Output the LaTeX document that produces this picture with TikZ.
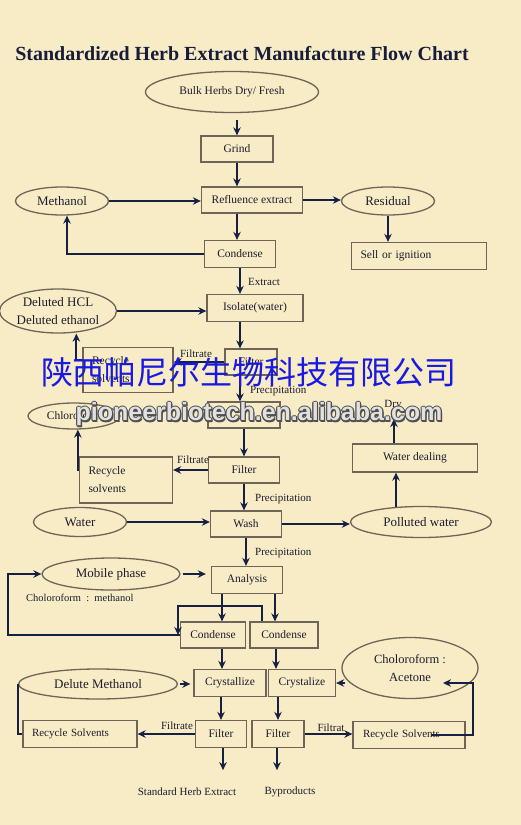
\documentclass[tikz,border=0pt]{standalone}
\usepackage{fontspec}
\setmainfont{Liberation Serif}
\newfontfamily\cjkfont{Noto Sans CJK SC}
\newfontfamily\wmfont{Liberation Sans}
\usetikzlibrary{shapes.geometric,arrows.meta,calc}
\definecolor{bg}{RGB}{248,236,198}
\definecolor{boxc}{RGB}{110,100,88}
\definecolor{arrc}{RGB}{22,32,68}
\definecolor{txt}{RGB}{28,28,45}
\definecolor{titlec}{RGB}{22,28,58}
\definecolor{wmblue}{RGB}{25,25,225}
\definecolor{wmdark}{RGB}{80,80,80}
\definecolor{wmlight}{RGB}{225,225,225}
\begin{document}
\begin{tikzpicture}[x=1pt,y=-1pt,
  box/.style={draw=boxc, line width=1.3pt, rectangle, inner sep=0pt, text=txt, font=\fontsize{11.5}{14}\selectfont, align=center},
  ell/.style={draw=boxc, line width=1.3pt, ellipse, inner sep=0pt, text=txt, font=\fontsize{13}{18}\selectfont, align=center},
  lbl/.style={text=txt, font=\fontsize{11}{13}\selectfont, inner sep=0pt},
  arr/.style={draw=arrc, line width=1.9pt, -{Stealth[length=8pt,width=7.5pt]}},
  ln/.style={draw=arrc, line width=1.9pt},
  wm/.style={font=\wmfont\bfseries\fontsize{25}{30}\selectfont, inner sep=0pt}]
\fill[bg] (0,0) rectangle (521,825);
\useasboundingbox (0,0) rectangle (521,825);

\node[text=titlec, font=\bfseries\fontsize{20}{24}\selectfont, inner sep=0pt] (title) at (242,54) {Standardized Herb Extract Manufacture Flow Chart};

% nodes
\node[ell, minimum width=173, minimum height=41, font=\fontsize{11.5}{14}\selectfont] (bulk) at (232,92) {Bulk Herbs Dry/ Fresh};
\node[box, minimum width=72, minimum height=26] (grind) at (237,149) {Grind};
\node[box, minimum width=101, minimum height=26] (reflu) at (252,200) {Refluence extract};
\node[ell, minimum width=93, minimum height=28] (meth) at (62,201) {Methanol};
\node[ell, minimum width=93, minimum height=28] (resid) at (388,201) {Residual};
\node[box, minimum width=71, minimum height=27] (cond1) at (240,254) {Condense};
\node[box, minimum height=27, text width=117, inner xsep=9, align=left] (sell) at (419,256) {Sell or ignition};
\node[lbl, anchor=west] (extr) at (248,282) {Extract};
\node[box, minimum width=96, minimum height=27] (iso) at (255,308) {Isolate(water)};
\node[ell, minimum width=117, minimum height=44] (hcl) at (58,311) {Deluted HCL\\Deluted ethanol};
\node[box, minimum width=52, minimum height=26] (filt1) at (251,362) {Filter};
\node[box, minimum height=45, text width=72, inner xsep=9, align=left, font=\fontsize{11.5}{18}\selectfont] (rec1) at (128,370) {Recycle\\solvents};
\node[lbl] (ft1) at (196,354) {Filtrate};
\node[lbl, anchor=west] (pr1) at (250,391) {Precipitation};
\node[box, minimum width=72, minimum height=26] (iso2) at (244,415) {};
\node[ell, minimum width=92, minimum height=26, font=\fontsize{11.5}{14}\selectfont] (chl) at (74,416) {Chloroform};
\node[lbl] (dry) at (393,405) {Dry};
\node[box, minimum width=71, minimum height=26] (filt2) at (244,470) {Filter};
\node[box, minimum height=46, text width=75, inner xsep=9, align=left, font=\fontsize{11.5}{18}\selectfont] (rec2) at (126,480) {Recycle\\solvents};
\node[lbl] (ft2) at (193,460) {Filtrate};
\node[lbl, anchor=west] (pr2) at (255,499) {Precipitation};
\node[box, minimum width=71, minimum height=26] (wash) at (246,524) {Wash};
\node[ell, minimum width=93, minimum height=29] (water) at (80,522) {Water};
\node[ell, minimum width=141, minimum height=31] (poll) at (421,522) {Polluted water};
\node[box, minimum width=125, minimum height=28] (wdeal) at (415,458) {Water dealing};
\node[lbl, anchor=west] (pr3) at (255,553) {Precipitation};
\node[box, minimum width=71, minimum height=27] (anal) at (247,580) {Analysis};
\node[ell, minimum width=138, minimum height=32] (mob) at (111,574) {Mobile phase};
\node[lbl, anchor=west, font=\fontsize{10.5}{13}\selectfont] (chm) at (26,598) {Choloroform\ \ :\ \ methanol};
\node[box, minimum width=65, minimum height=26] (cdl) at (213,635) {Condense};
\node[box, minimum width=68, minimum height=26] (cdr) at (284,635) {Condense};
\node[box, minimum width=72, minimum height=27] (cryl) at (230,683) {Crystallize};
\node[box, minimum width=67, minimum height=27] (cryr) at (302,683) {Crystalize};
\node[ell, minimum width=159, minimum height=30] (dmeth) at (98,684) {Delute Methanol};
\node[ell, minimum width=136, minimum height=61, font=\fontsize{12.5}{18}\selectfont] (ca) at (410,668) {Choloroform :\\Acetone};
\node[box, minimum width=51, minimum height=27] (fl) at (221,734) {Filter};
\node[box, minimum width=52, minimum height=27] (fr) at (278,734) {Filter};
\node[box, minimum height=27, text width=96, inner xsep=9, align=left, font=\fontsize{11}{14}\selectfont] (recl) at (80,734) {Recycle Solvents};
\node[box, minimum height=27, text width=92, inner xsep=10, align=left, font=\fontsize{11}{14}\selectfont] (recr) at (409,735) {Recycle Solvents};
\node[lbl] (ft3) at (177,726) {Filtrate};
\node[lbl] (ft4) at (331,728) {Filtrat};
\node[lbl] (she) at (187,792) {Standard Herb Extract};
\node[lbl] (byp) at (290,792) {Byproducts};

% helper coordinates
\coordinate (b0) at (237,120);
\coordinate (dryend) at (394,419);
\coordinate (jB) at (178,606);
\coordinate (lp) at (8,574);
\coordinate (rc1) at (473,735);
\coordinate (rc2) at (473,683);
\coordinate (caend) at (443,683);
\path (rec1.west) ++(-6,-10) coordinate (r1w);
\path (rec2.west) ++(-1,-10) coordinate (r2w);
\path (poll.north) ++(-25,0) coordinate (pn);
\path (wdeal.north) ++(-21,0) coordinate (wn);
\path (anal.west) ++(-5,0) coordinate (aw);
\path (anal.south) ++(-25,0) coordinate (as1);
\path (anal.south) ++(28,0) coordinate (as2);
\path (cdr.north) ++(-22,0) coordinate (cn);
\path (cdl.south) ++(9,0) coordinate (cs1);
\path (cdr.south) ++(-8,0) coordinate (cs2);
\path (cryl.west) ++(-3,0) coordinate (cw);
\path (cryr.east) ++(9,0) coordinate (ce);
\path (recr.east) ++(-35,0) coordinate (rs);
\path (fl.south) ++(2,22) coordinate (e1);
\path (fr.south) ++(-1,22) coordinate (e2);
\path (fl.south) ++(2,0) coordinate (fls);
\path (fr.south) ++(-1,0) coordinate (frs);

% connectors
\draw[arr] (b0) -- (grind.north);
\draw[arr] (grind.south) -- (grind.south |- reflu.north);
\draw[arr] (meth.east) -- (meth.east -| reflu.west);
\draw[arr] (reflu.east) -- (reflu.east -| resid.west);
\draw[arr] (grind.south |- reflu.south) -- (grind.south |- cond1.north);
\draw[arr] (cond1.west) -| ([xshift=5pt]meth.south);
\draw[arr] (resid.south) -- (resid.south |- sell.north);
\draw[arr] (cond1.south) -- (cond1.south |- iso.north);
\draw[arr] (hcl.east) -- (hcl.east -| iso.west);
\draw[arr] (cond1.south |- iso.south) -- (cond1.south |- filt1.north);
\draw[arr] (filt1.west) -- (filt1.west -| rec1.east);
\draw[arr] ([yshift=10pt]rec1.west) -- (r1w) -- (r1w |- hcl.south);
\draw[arr] (cond1.south |- filt1.south) -- (cond1.south |- iso2.north);
\draw[arr] (iso2.south) -- (filt2.north);
\draw[arr] (filt2.west) -- (filt2.west -| rec2.east);
\draw[arr] ([yshift=10pt]rec2.west) -- (r2w) -- (r2w |- chl.south);
\draw[arr] (filt2.south) -- (filt2.south |- wash.north);
\draw[arr] (water.east) -- (water.east -| wash.west);
\draw[arr] (wash.east) -- (wash.east -| poll.west);
\draw[arr] ([yshift=-1pt]pn) -- (pn |- wdeal.south);
\draw[arr] (wn) -- (dryend);
\draw[arr] (wash.south) -- (wash.south |- anal.north);
\draw[arr] ([xshift=2pt]mob.east) -- (mob.east -| aw);
\draw[arr] (as1) -- (as1 |- cdl.north);
\draw[arr] (as2) -- (as2 |- cdr.north);
\draw[arr] (cn) |- (jB) -- (jB |- cdl.west);
\draw[arr] (cdl.west) -| (lp) -- (lp -| mob.west);
\draw[arr] (cs1) -- (cs1 |- cryl.north);
\draw[arr] (cs2) -- (cs2 |- cryr.north);
\draw[arr] ([xshift=2pt]dmeth.east) -- (dmeth.east -| cw);
\draw[arr] (ce) -- (cryr.east);
\draw[arr] (fl.north |- cryl.south) -- (fl.north);
\draw[arr] (fr.north |- cryr.south) -- (fr.north);
\draw[arr] (fl.west) -- (fl.west -| recl.east);
\draw[ln] (recl.west) -| (dmeth.west);
\draw[arr] (fr.east) -- (fr.east -| recr.west);
\draw[arr] (rs) -- (rc1) -- (rc2) -- (caend);
\draw[arr] (fls) -- (e1);
\draw[arr] (frs) -- (e2);

% watermark
\node[font=\cjkfont\fontsize{32}{36}\selectfont, text=wmblue, inner sep=0pt] (wmcn) at (249,372) {陕西帕尼尔生物科技有限公司};
\foreach \dx/\dy [count=\i] in {-1.1/0,1.1/0,0/-1.1,0/1.1,-0.8/-0.8,0.8/0.8,-0.8/0.8,0.8/-0.8,1.4/1.4}
  \node[wm, text=wmdark] (wmo\i) at ($(259,414.5)+(\dx,\dy)$) {pioneerbiotech.en.alibaba.com};
\node[wm, text=wmlight] (wmurl) at (259,414.5) {pioneerbiotech.en.alibaba.com};
\end{tikzpicture}
\end{document}
